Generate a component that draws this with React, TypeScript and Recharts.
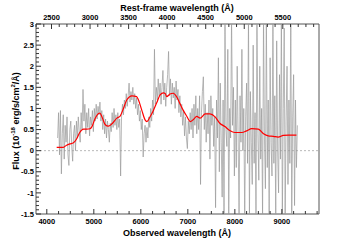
import { ComposedChart, Line, XAxis, YAxis, ReferenceLine, ReferenceArea } from 'recharts';

// observed-frame spectrum (grey)
const specWave = [
  4230, 4250, 4270, 4290, 4310, 4330, 4350, 4370, 4390, 4410, 4430, 4450, 4470, 4490, 4510, 4530,
  4550, 4570, 4590, 4610, 4630, 4650, 4670, 4690, 4710, 4730, 4750, 4770, 4790, 4810, 4830, 4850,
  4870, 4890, 4910, 4930, 4950, 4970, 4990, 5010, 5030, 5050, 5070, 5090, 5110, 5130, 5150, 5170,
  5190, 5210, 5230, 5250, 5270, 5290, 5310, 5330, 5350, 5370, 5390, 5410, 5430, 5450, 5470, 5490,
  5510, 5530, 5550, 5570, 5590, 5610, 5630, 5650, 5670, 5690, 5710, 5730, 5750, 5770, 5790, 5810,
  5830, 5850, 5870, 5890, 5910, 5930, 5950, 5970, 5990, 6010, 6030, 6050, 6070, 6090, 6110, 6130,
  6150, 6170, 6190, 6210, 6230, 6250, 6270, 6290, 6310, 6330, 6350, 6370, 6390, 6410, 6430, 6450,
  6470, 6490, 6510, 6530, 6550, 6570, 6590, 6610, 6630, 6650, 6670, 6690, 6710, 6730, 6750, 6770,
  6790, 6810, 6830, 6850, 6870, 6890, 6910, 6930, 6950, 6970, 6990, 7010, 7030, 7050, 7070, 7090,
  7110, 7130, 7150, 7170, 7190, 7210, 7230, 7250, 7270, 7290, 7310, 7330, 7350, 7370, 7390, 7410,
  7430, 7450, 7470, 7490, 7510, 7530, 7550, 7570, 7590, 7610, 7630, 7650, 7670, 7690, 7710, 7730,
  7750, 7770, 7790, 7810, 7830, 7850, 7870, 7890, 7910, 7930, 7950, 7970, 7990, 8010, 8030, 8050,
  8070, 8090, 8110, 8130, 8150, 8170, 8190, 8210, 8230, 8250, 8270, 8290, 8310, 8330, 8350, 8370,
  8390, 8410, 8430, 8450, 8470, 8490, 8510, 8530, 8550, 8570, 8590, 8610, 8630, 8650, 8670, 8690,
  8710, 8730, 8750, 8770, 8790, 8810, 8830, 8850, 8870, 8890, 8910, 8930, 8950, 8970, 8990, 9010,
  9030, 9050, 9070, 9090, 9110, 9130, 9150, 9170, 9190, 9210, 9230, 9250, 9270, 9290, 9310, 9330,
];
const specFlux = [
  0.3, 0.9, -0.1, 0.95, -0.55, 0.4, 0.85, -0.2, 0.6, 0.2, 0.8, -0.1, -0.35, 0.5, 0.7, 0.1,
  -0.25, 0.4, 0.6, 0.0, 0.7, 0.3, 0.8, 0.45, 0.2, 0.9, 0.5, 1.45, 0.7, 1.1, 0.4, 0.9,
  0.55, 1.0, 0.35, 0.8, 0.6, 0.95, 0.45, 1.0, 0.7, 1.1, 0.75, 1.05, 0.85, 1.15, 0.7, 0.95,
  0.5, 0.85, 0.4, 0.75, 0.3, 0.7, 0.5, 0.2, 0.65, 0.45, 0.9, 0.55, 1.0, 0.6, 0.85, 0.5,
  0.9, 0.55, 0.75, -0.6, 0.8, 1.1, 0.85, 1.2, 1.0, 1.35, 1.05, 1.3, 1.6, 1.15, 1.4, 1.2,
  1.5, 1.1, 1.35, 1.0, 1.25, 0.85, 1.1, 0.7, 0.95, 0.5, 0.75, -0.15, 0.4, 0.6, 0.2, 0.55,
  0.3, 0.8, 0.55, 1.0, 0.7, 1.2, 0.85, 2.4, 1.1, 1.5, 1.2, 1.7, 1.3, 1.6, 1.1, 1.5,
  1.9, 1.2, 1.6, 1.05, 1.5, 1.8, 2.35, 1.3, 1.7, 1.1, 1.6, 1.25, 1.5, 1.0, 1.65, 1.2,
  1.45, 0.9, 1.3, 0.8, 1.1, 0.6, 0.95, 0.35, 0.8, 0.3, 0.05, 0.7, 0.4, 0.9, 0.5, 1.0,
  0.3, 1.1, 0.6, 1.3, 0.4, 1.0, 0.5, 1.3, -0.8, 0.9, 1.4, 1.75, 0.5, 1.1, 0.2, 0.9,
  0.4, 1.2, -0.2, 1.3, 0.6, 1.0, 0.1, 0.8, -1.35, 1.2, 0.3, 2.2, -0.5, 1.6, 0.2, -1.1,
  1.2, -1.6, 3.2, 0.5, 0.1, 2.4, -1.6, 1.0, 0.3, 3.2, 0.6, 1.5, -0.6, 1.2, -0.4, 2.0,
  0.3, -1.6, 1.3, 0.2, 2.4, 0.0, 1.0, -1.6, 0.8, 1.6, -0.3, 3.2, -1.6, 1.4, 0.2, -0.8,
  2.5, -0.3, 0.9, -1.6, 3.2, 0.4, -0.7, 2.0, -0.2, 1.0, -1.6, 3.2, 0.3, -0.9, 3.2, -0.4,
  1.2, -1.6, 2.2, 0.2, -0.6, 3.2, -0.3, 1.3, -1.6, 2.6, 0.0, -1.0, 1.8, -0.2, 3.2, -1.6,
  1.0, 2.9, -1.6, 0.7, 2.0, -0.8, 1.2, -0.3, 3.2, -1.6, 0.8, 1.8, -1.3, 1.2, -0.4, 0.6,
];

// smooth model (red)
const modelWave = [
  4210, 4350, 4420, 4490, 4560, 4630, 4700, 4780, 4850, 4920, 4960, 5030, 5100, 5130, 5170, 5240,
  5310, 5380, 5490, 5560, 5630, 5700, 5810, 5910, 5950, 6020, 6090, 6130, 6200, 6270, 6340, 6410,
  6480, 6520, 6550, 6620, 6690, 6760, 6830, 6900, 6980, 7050, 7120, 7190, 7260, 7370, 7470, 7580,
  7680, 7790, 7900, 8000, 8150, 8250, 8360, 8500, 8610, 8710, 8820, 8920, 9030, 9140, 9310,
];
const modelFlux = [
  0.08, 0.08, 0.13, 0.16, 0.18, 0.27, 0.43, 0.51, 0.51, 0.52, 0.57, 0.77, 0.88, 0.89, 0.81, 0.62,
  0.58, 0.63, 0.77, 0.82, 1.0, 1.2, 1.3, 1.28, 1.2, 0.96, 0.73, 0.69, 0.81, 0.96, 1.14, 1.32,
  1.37, 1.35, 1.28, 1.34, 1.36, 1.28, 1.12, 0.96, 0.81, 0.69, 0.74, 0.81, 0.77, 0.87, 0.87, 0.8,
  0.65, 0.57, 0.47, 0.43, 0.43, 0.47, 0.52, 0.51, 0.4, 0.35, 0.34, 0.32, 0.36, 0.37, 0.37,
];

const obsDomain = [3770, 9790];
const redshift = 0.64;
const restDomain = [obsDomain[0] / (1 + redshift), obsDomain[1] / (1 + redshift)];
const fluxDomain = [-1.5, 3];

const obsTicks = [4000, 5000, 6000, 7000, 8000, 9000];
const restTicks = [2500, 3000, 3500, 4000, 4500, 5000, 5500];
const fluxTicks = [-1.5, -1, -0.5, 0, 0.5, 1, 1.5, 2, 2.5, 3];

const obsMinor: number[] = [];
for (let v = 4000; v <= 9750; v += 250) obsMinor.push(v);
const restMinor: number[] = [];
for (let v = 2300; v <= 5900; v += 100) restMinor.push(v);
const fluxMinor: number[] = [];
for (let i = 0; i <= 45; i++) fluxMinor.push(Math.round((-1.5 + i * 0.1) * 10) / 10);

const specData = specWave.map((w, i) => ({ wave: w, flux: specFlux[i] }));
const modelData = modelWave.map((w, i) => ({ wave: w, rest: w / (1 + redshift), flux: modelFlux[i] }));

const FONT = "'Liberation Sans', Arial, Helvetica, sans-serif";
const AXIS = '#333';

const BottomTick = (props: any) => {
  const { x, y, payload } = props;
  const major = obsTicks.includes(payload.value);
  return (
    <g>
      <line x1={x} x2={x} y1={y} y2={y - (major ? 5 : 3)} stroke={AXIS} />
      {major && (
        <text x={x} y={y + 10} textAnchor="middle" fontSize={7.5} fontWeight="bold" fontFamily={FONT} fill="#000">
          {payload.value}
        </text>
      )}
    </g>
  );
};

const TopTick = (props: any) => {
  const { x, y, payload } = props;
  const major = restTicks.includes(payload.value);
  return (
    <g>
      <line x1={x} x2={x} y1={y} y2={y + (major ? 5 : 3)} stroke={AXIS} />
      {major && (
        <text x={x} y={y - 4.5} textAnchor="middle" fontSize={7.5} fontWeight="bold" fontFamily={FONT} fill="#000">
          {payload.value}
        </text>
      )}
    </g>
  );
};

const LeftTick = (props: any) => {
  const { x, y, payload } = props;
  const major = fluxTicks.includes(payload.value);
  return (
    <g>
      <line x1={x} x2={x + (major ? 5 : 3)} y1={y} y2={y} stroke={AXIS} />
      {major && (
        <text x={x - 2} y={y + 2.7} textAnchor="end" fontSize={7.5} fontWeight="bold" fontFamily={FONT} fill="#000">
          {payload.value}
        </text>
      )}
    </g>
  );
};

const BottomTitle = () => (
  <text x={177} y={236} textAnchor="middle" fontSize={9} fontWeight="bold" fontFamily={FONT} fill="#000">
    Observed wavelength (Å)
  </text>
);

const TopTitle = () => (
  <text x={177} y={10.5} textAnchor="middle" fontSize={9} fontWeight="bold" fontFamily={FONT} fill="#000">
    Rest-frame wavelength (Å)
  </text>
);

const LeftTitle = () => (
  <text
    transform="translate(18.5,121) rotate(-90)"
    textAnchor="middle"
    fontSize={9}
    fontWeight="bold"
    fontFamily={FONT}
    fill="#000"
  >
    Flux (10
    <tspan dy={-3.5} fontSize={6}>-18</tspan>
    <tspan dy={3.5}> erg/s/cm</tspan>
    <tspan dy={-3.5} fontSize={6}>2</tspan>
    <tspan dy={3.5}>/Å)</tspan>
  </text>
);

export default function App() {
  return (
    <div style={{ position: 'absolute', left: 0, top: 0, width: 355, height: 240, background: '#fff' }}>
      <ComposedChart width={355} height={240} margin={{ top: 0, right: 36, bottom: 0, left: 0 }}>
        <XAxis
          dataKey="wave"
          type="number"
          domain={obsDomain}
          allowDataOverflow
          ticks={obsMinor}
          interval={0}
          height={26}
          tickSize={0}
          tickMargin={0}
          axisLine={false}
          tickLine={false}
          tick={<BottomTick />}
          label={<BottomTitle />}
        />
        <XAxis
          xAxisId="top"
          dataKey="rest"
          orientation="top"
          type="number"
          domain={restDomain}
          allowDataOverflow
          ticks={restMinor}
          interval={0}
          height={24}
          tickSize={0}
          tickMargin={0}
          axisLine={false}
          tickLine={false}
          tick={<TopTick />}
          label={<TopTitle />}
        />
        <YAxis
          type="number"
          domain={fluxDomain}
          allowDataOverflow
          ticks={fluxMinor}
          interval={0}
          width={36}
          tickSize={0}
          tickMargin={0}
          axisLine={false}
          tickLine={false}
          tick={<LeftTick />}
          label={<LeftTitle />}
        />
        <ReferenceLine y={0} stroke="#b8b8b8" strokeDasharray="2 2" />
        <Line
          data={specData}
          dataKey="flux"
          type="linear"
          stroke="#9a9a9a"
          strokeWidth={0.7}
          dot={false}
          isAnimationActive={false}
        />
        <Line
          data={modelData}
          dataKey="flux"
          type="monotone"
          stroke="#ff0000"
          strokeWidth={1.2}
          dot={false}
          isAnimationActive={false}
        />
        {/* carries the rest-frame axis, not drawn */}
        <Line
          xAxisId="top"
          data={modelData}
          dataKey="flux"
          stroke="none"
          dot={false}
          activeDot={false}
          isAnimationActive={false}
        />
        <ReferenceArea
          x1={obsDomain[0]}
          x2={obsDomain[1]}
          y1={fluxDomain[0]}
          y2={fluxDomain[1]}
          fill="none"
          stroke="#555"
          strokeWidth={1}
        />
      </ComposedChart>
    </div>
  );
}
